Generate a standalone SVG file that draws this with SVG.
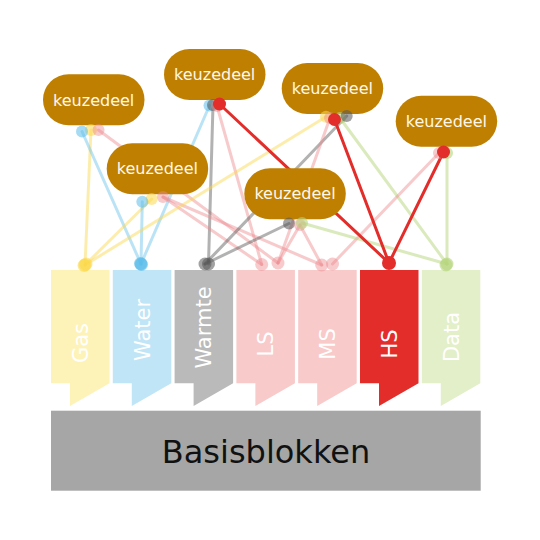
<svg xmlns="http://www.w3.org/2000/svg" width="540" height="540" viewBox="0 0 540 540">
<style>
.bg{fill:#ffffff}
.pill{fill:#bf8002}
.pt{font-family:"DejaVu Sans","Liberation Sans",sans-serif;font-size:16px;fill:#fff8e8;text-anchor:middle}
.bt{font-family:"DejaVu Sans","Liberation Sans",sans-serif;font-size:21px;fill:#ffffff;text-anchor:middle}
.base{fill:#a6a6a6}
.basetxt{font-family:"DejaVu Sans","Liberation Sans",sans-serif;font-size:32px;fill:#111111;text-anchor:middle}
.ln{fill:none;stroke-width:3;stroke-linecap:round}
.gas{stroke:#fbd84a;stroke-opacity:.45}
.wat{stroke:#5cbde9;stroke-opacity:.42}
.wrm{stroke:#555555;stroke-opacity:.45}
.pnk{stroke:#ee8a8e;stroke-opacity:.45}
.hs{stroke:#e32d2a}
.dat{stroke:#b5d67c;stroke-opacity:.5}
.dgas{fill:#fbd84a;fill-opacity:.55}
.dwat{fill:#5cbde9;fill-opacity:.55}
.dwrm{fill:#555555;fill-opacity:.55}
.dpnk{fill:#ee8a8e;fill-opacity:.45}
.dhs{fill:#e32d2a}
.ddat{fill:#b5d67c;fill-opacity:.6}
</style>
<rect class="bg" x="0" y="0" width="540" height="540"/>

<g id="connectors">
<line class="ln gas" x1="91" y1="130" x2="85" y2="265"/>
<line class="ln wat" x1="82" y1="131.5" x2="141" y2="264"/>
<line class="ln pnk" x1="98.5" y1="130" x2="278" y2="263"/>
<line class="ln wat" x1="209.5" y1="105.5" x2="141" y2="264"/>
<line class="ln wrm" x1="213" y1="105" x2="208.5" y2="264"/>
<line class="ln pnk" x1="217" y1="106" x2="261.7" y2="264.5"/>
<line class="ln gas" x1="151.7" y1="199" x2="85" y2="265"/>
<line class="ln wat" x1="142.3" y1="201.7" x2="141" y2="264"/>
<line class="ln pnk" x1="163" y1="197" x2="261.7" y2="264.5"/>
<line class="ln pnk" x1="163" y1="197" x2="321.7" y2="265"/>
<line class="ln gas" x1="326" y1="116.7" x2="85" y2="265"/>
<line class="ln wrm" x1="346.7" y1="116" x2="205" y2="264"/>
<line class="ln pnk" x1="330" y1="118" x2="278" y2="263"/>
<line class="ln dat" x1="340" y1="118" x2="447" y2="264"/>
<line class="ln pnk" x1="439" y1="153" x2="332.5" y2="264"/>
<line class="ln dat" x1="447" y1="153" x2="447" y2="264"/>
<line class="ln wrm" x1="289" y1="223.5" x2="205" y2="264"/>
<line class="ln pnk" x1="300" y1="225" x2="278" y2="263"/>
<line class="ln pnk" x1="300" y1="225" x2="321.7" y2="265"/>
<line class="ln dat" x1="302" y1="223" x2="447" y2="264"/>
<line class="ln hs" x1="219.5" y1="104" x2="389" y2="263"/>
<line class="ln hs" x1="334.5" y1="119.5" x2="389" y2="263"/>
<line class="ln hs" x1="443.5" y1="152" x2="389" y2="263"/>
</g>

<g id="bar-gas"><polygon fill="#fdf3b9" points="51,270 109.5,270 109.5,383.3 70,406 70,383.3 51,383.3"/><text class="bt" transform="translate(80.2,343) rotate(-90)" dy="0.36em">Gas</text></g>
<g id="bar-water"><polygon fill="#bfe5f6" points="112.8,270 171.3,270 171.3,383.3 131.8,406 131.8,383.3 112.8,383.3"/><text class="bt" transform="translate(142,330) rotate(-90)" dy="0.36em">Water</text></g>
<g id="bar-warmte"><polygon fill="#bababa" points="174.6,270 233.1,270 233.1,383.3 193.6,406 193.6,383.3 174.6,383.3"/><text class="bt" transform="translate(203.8,327.5) rotate(-90)" dy="0.36em">Warmte</text></g>
<g id="bar-ls"><polygon fill="#f8caca" points="236.4,270 294.9,270 294.9,383.3 255.4,406 255.4,383.3 236.4,383.3"/><text class="bt" transform="translate(265.6,344) rotate(-90)" dy="0.36em">LS</text></g>
<g id="bar-ms"><polygon fill="#f8caca" points="298.2,270 356.7,270 356.7,383.3 317.2,406 317.2,383.3 298.2,383.3"/><text class="bt" transform="translate(327.4,344) rotate(-90)" dy="0.36em">MS</text></g>
<g id="bar-hs"><polygon fill="#e32d2a" points="360,270 418.5,270 418.5,383.3 379,406 379,383.3 360,383.3"/><text class="bt" transform="translate(389.2,344) rotate(-90)" dy="0.36em">HS</text></g>
<g id="bar-data"><polygon fill="#e3efc9" points="421.8,270 480.3,270 480.3,383.3 440.8,406 440.8,383.3 421.8,383.3"/><text class="bt" transform="translate(451,337) rotate(-90)" dy="0.36em">Data</text></g>

<g id="basisblokken"><rect class="base" x="51" y="410.7" width="429.7" height="80"/><text class="basetxt" x="266" y="462.7">Basisblokken</text></g>

<g id="keuzedeel-1"><rect class="pill" x="43" y="74.3" width="101.5" height="51" rx="25.5"/><text class="pt" x="93.7" y="105.5">keuzedeel</text></g>
<g id="keuzedeel-2"><rect class="pill" x="164" y="49" width="101.5" height="51" rx="25.5"/><text class="pt" x="214.7" y="80">keuzedeel</text></g>
<g id="keuzedeel-3"><rect class="pill" x="106.7" y="143.3" width="101.5" height="51" rx="25.5"/><text class="pt" x="157.4" y="174.3">keuzedeel</text></g>
<g id="keuzedeel-4"><rect class="pill" x="281.7" y="63" width="101.5" height="51" rx="25.5"/><text class="pt" x="332.4" y="94">keuzedeel</text></g>
<g id="keuzedeel-5"><rect class="pill" x="395.7" y="95.7" width="101.5" height="51" rx="25.5"/><text class="pt" x="446.4" y="126.7">keuzedeel</text></g>
<g id="keuzedeel-6"><rect class="pill" x="244.3" y="168.3" width="101.5" height="51" rx="25.5"/><text class="pt" x="295" y="199.3">keuzedeel</text></g>

<g id="connector-ends">
<circle class="dgas" cx="91" cy="130" r="6"/>
<circle class="dpnk" cx="98.5" cy="130" r="6"/>
<circle class="dwat" cx="82" cy="131.5" r="6"/>
<circle class="dwat" cx="209.5" cy="105.5" r="6"/>
<circle class="dwrm" cx="213" cy="105" r="6"/>
<circle class="dpnk" cx="217" cy="106" r="6"/>
<circle class="dhs" cx="219.5" cy="104" r="6.5"/>
<circle class="dgas" cx="151.7" cy="199" r="6"/>
<circle class="dpnk" cx="163" cy="197" r="6"/>
<circle class="dwat" cx="142.3" cy="201.7" r="6"/>
<circle class="dgas" cx="326" cy="116.7" r="6"/>
<circle class="dpnk" cx="330" cy="118" r="6"/>
<circle class="ddat" cx="340" cy="118" r="6"/>
<circle class="dwrm" cx="346.7" cy="116" r="6"/>
<circle class="dhs" cx="334.5" cy="119.5" r="6.5"/>
<circle class="dpnk" cx="439" cy="153" r="6"/>
<circle class="ddat" cx="447" cy="153" r="6"/>
<circle class="dhs" cx="443.5" cy="152" r="6.5"/>
<circle class="dwrm" cx="289" cy="223.5" r="6"/>
<circle class="dpnk" cx="300" cy="225" r="6"/>
<circle class="ddat" cx="302" cy="223" r="6"/>
<circle class="dgas" cx="85" cy="265" r="6.5"/>
<circle class="dgas" cx="86" cy="264" r="6.5"/>
<circle class="dgas" cx="84" cy="265.5" r="6.5"/>
<circle class="dwat" cx="141" cy="264" r="6.5"/>
<circle class="dwat" cx="141.5" cy="264.5" r="6.5"/>
<circle class="dwat" cx="140.5" cy="263.5" r="6.5"/>
<circle class="dwrm" cx="205" cy="264" r="6.5"/>
<circle class="dwrm" cx="208.5" cy="264" r="6.5"/>
<circle class="dpnk" cx="261.7" cy="264.5" r="6.5"/>
<circle class="dpnk" cx="278" cy="263" r="6.5"/>
<circle class="dpnk" cx="321.7" cy="265" r="6.5"/>
<circle class="dpnk" cx="332.5" cy="264" r="6.5"/>
<circle class="dhs" cx="389" cy="263" r="7"/>
<circle class="ddat" cx="447" cy="264" r="6.5"/>
<circle class="ddat" cx="446" cy="265" r="6.5"/>
</g>
</svg>
